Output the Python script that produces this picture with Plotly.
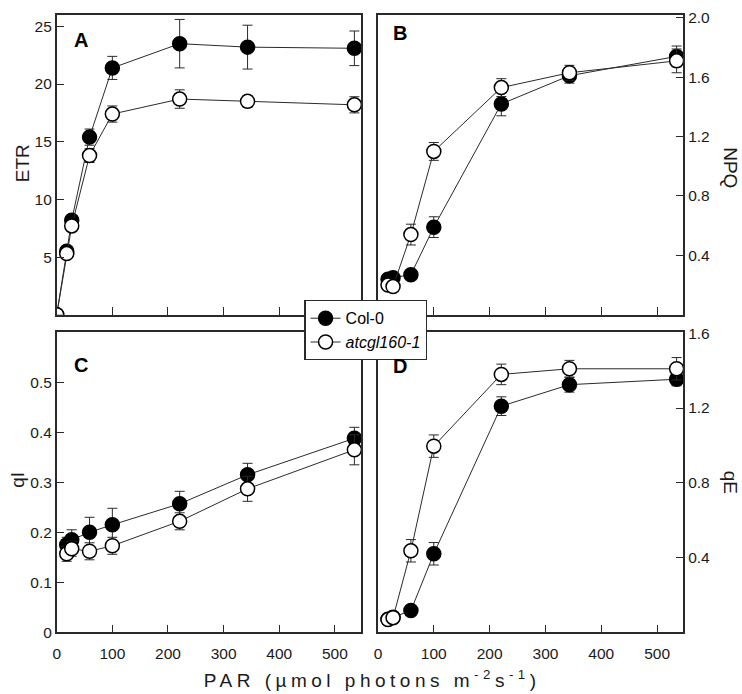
import plotly.graph_objects as go

# ---------------- data ----------------
PAR_A = [0, 18, 27, 59, 100, 221, 343, 535]
PAR = [18, 27, 59, 100, 221, 343, 535]

ETR_col = [0, 5.5, 8.2, 15.4, 21.4, 23.5, 23.2, 23.1]
ETR_col_err = [0, 0.3, 0.4, 0.7, 1.0, 2.1, 1.9, 1.5]
ETR_mut = [0, 5.3, 7.7, 13.8, 17.4, 18.7, 18.5, 18.2]
ETR_mut_err = [0, 0.3, 0.4, 0.6, 0.7, 0.8, 0.5, 0.7]

NPQ_col = [0.24, 0.25, 0.27, 0.59, 1.42, 1.61, 1.74]
NPQ_col_err = [0.02, 0.02, 0.02, 0.07, 0.08, 0.05, 0.07]
NPQ_mut = [0.20, 0.19, 0.54, 1.10, 1.53, 1.63, 1.71]
NPQ_mut_err = [0.02, 0.02, 0.07, 0.06, 0.06, 0.05, 0.08]

qI_col = [0.175, 0.185, 0.20, 0.215, 0.257, 0.315, 0.388]
qI_col_err = [0.015, 0.02, 0.03, 0.033, 0.025, 0.023, 0.022]
qI_mut = [0.157, 0.167, 0.162, 0.173, 0.222, 0.287, 0.365]
qI_mut_err = [0.015, 0.015, 0.017, 0.017, 0.017, 0.025, 0.03]

qE_col = [0.07, 0.08, 0.116, 0.42, 1.21, 1.325, 1.354]
qE_col_err = [0.01, 0.01, 0.02, 0.06, 0.05, 0.04, 0.035]
qE_mut = [0.068, 0.078, 0.436, 0.996, 1.38, 1.41, 1.41]
qE_mut_err = [0.01, 0.01, 0.06, 0.06, 0.055, 0.045, 0.06]

x_ticks = [0, 100, 200, 300, 400, 500]
etr_ticks = [5, 10, 15, 20, 25]
npq_ticks = [0.4, 0.8, 1.2, 1.6, 2.0]
npq_ticktext = ["0.4", "0.8", "1.2", "1.6", "2.0"]
qi_ticks = [0, 0.1, 0.2, 0.3, 0.4, 0.5]
qi_ticktext = ["0", "0.1", "0.2", "0.3", "0.4", "0.5"]
qe_ticks = [0.4, 0.8, 1.2, 1.6]
qe_ticktext = ["0.4", "0.8", "1.2", "1.6"]

NAME_COL = "Col-0"
NAME_MUT = "<i>atcgl160-1</i>"

# ---------------- figure ----------------
W, H = 742, 694
FONT = "Liberation Sans, Arial, sans-serif"
LINE = "#2a2a2a"

def px_x(v):
    return v / W

def px_y(v):
    return 1 - v / H

fig = go.Figure()

def add_series(x, y, err, xa, ya, filled, show):
    fig.add_trace(go.Scatter(
        x=x, y=y, xaxis=xa, yaxis=ya,
        mode="lines+markers",
        name=NAME_COL if filled else NAME_MUT,
        showlegend=show,
        line=dict(color=LINE, width=1),
        marker=dict(symbol="circle", size=14,
                    color="black" if filled else "white",
                    line=dict(color="black", width=1.5)),
        error_y=dict(type="data", array=err, visible=True,
                     color=LINE, thickness=1, width=5),
    ))

add_series(PAR_A, ETR_col, ETR_col_err, "x", "y", True, True)
add_series(PAR_A, ETR_mut, ETR_mut_err, "x", "y", False, True)
add_series(PAR, NPQ_col, NPQ_col_err, "x2", "y2", True, False)
add_series(PAR, NPQ_mut, NPQ_mut_err, "x2", "y2", False, False)
add_series(PAR, qI_col, qI_col_err, "x3", "y3", True, False)
add_series(PAR, qI_mut, qI_mut_err, "x3", "y3", False, False)
add_series(PAR, qE_col, qE_col_err, "x4", "y4", True, False)
add_series(PAR, qE_mut, qE_mut_err, "x4", "y4", False, False)

left_dom = [px_x(53), px_x(359)]
right_dom = [px_x(376), px_x(683)]
top_dom = [px_y(314), px_y(7)]
bot_dom = [px_y(639), px_y(332)]

axis_common = dict(showline=True, mirror=True, linecolor=LINE, linewidth=1.5,
                   showgrid=False, zeroline=False,
                   tickfont=dict(family=FONT, size=15.5, color="#1a1a1a"),
                   tickcolor=LINE, tickwidth=1.2, ticklen=8, ticks="inside")

def xaxis(dom, anchor, labels):
    d = dict(axis_common)
    d.update(domain=dom, anchor=anchor, range=[0, 547], tickvals=x_ticks,
             ticktext=[str(v) for v in x_ticks],
             showticklabels=labels, ticklabelstandoff=6)
    return d

def yaxis(dom, anchor, rng, tv, tt, side):
    d = dict(axis_common)
    d.update(domain=dom, anchor=anchor, range=rng, tickvals=tv, ticktext=tt,
             side=side)
    return d

fig.update_layout(
    xaxis=xaxis(left_dom, "y", False),
    xaxis2=xaxis(right_dom, "y2", False),
    xaxis3=xaxis(left_dom, "y3", True),
    xaxis4=xaxis(right_dom, "y4", True),
    yaxis=yaxis(top_dom, "x", [0, 26], etr_ticks, [str(v) for v in etr_ticks], "left"),
    yaxis2=yaxis(top_dom, "x2", [0, 2.02], npq_ticks, npq_ticktext, "right"),
    yaxis3=yaxis(bot_dom, "x3", [0, 0.6], qi_ticks, qi_ticktext, "left"),
    yaxis4=yaxis(bot_dom, "x4", [0, 1.605], qe_ticks, qe_ticktext, "right"),
)

annos = [
    dict(text="<b>A</b>", x=px_x(77), y=px_y(33)),
    dict(text="<b>B</b>", x=px_x(398), y=px_y(26)),
    dict(text="<b>C</b>", x=px_x(77), y=px_y(365)),
    dict(text="<b>D</b>", x=px_x(398), y=px_y(366)),
]
for a in annos:
    fig.add_annotation(xref="paper", yref="paper", showarrow=False,
                       xanchor="center", yanchor="middle",
                       font=dict(family=FONT, size=20, color="black"), **a)

titles = [
    dict(text="ETR", x=px_x(18), y=px_y(159), textangle=-90),
    dict(text="qI", x=px_x(14), y=px_y(483), textangle=-90),
    dict(text="NPQ", x=px_x(731), y=px_y(163), textangle=90),
    dict(text="qE", x=px_x(730), y=px_y(485), textangle=90),
    dict(text="PAR (µmol photons m<sup>-2</sup>s<sup>-1</sup>)", x=px_x(370), y=px_y(687), textangle=0),
]
for t in titles:
    fig.add_annotation(xref="paper", yref="paper", showarrow=False,
                       xanchor="center", yanchor="middle",
                       font=dict(family=FONT, size=19, color="#1a1a1a"), **t)

fig.update_layout(
    width=W, height=H,
    margin=dict(l=0, r=0, t=0, b=0),
    paper_bgcolor="white", plot_bgcolor="white",
    showlegend=True,
    legend=dict(x=px_x(302), y=px_y(299), xanchor="left", yanchor="top",
                bgcolor="white", bordercolor=LINE, borderwidth=1.2,
                font=dict(family=FONT, size=16, color="black"),
                tracegroupgap=0, itemwidth=30),
)

post = """
document.body.style.margin='0';
document.body.style.padding='0';
function fixPar(){
  document.querySelectorAll('.annotation-text').forEach(function(t){
    if(t.textContent.indexOf('PAR')===0){ t.style.letterSpacing='4.5px'; }
  });
}
fixPar(); setTimeout(fixPar, 0);
"""

fig.write_html("out.html", post_script=post, config={"displayModeBar": False})
